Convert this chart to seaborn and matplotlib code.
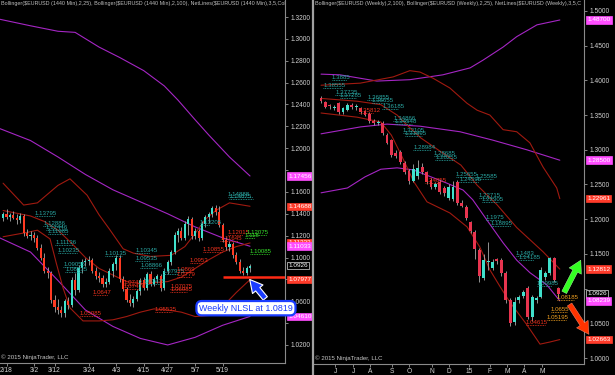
import numpy as np
import matplotlib
matplotlib.use('Agg')
import matplotlib.pyplot as plt
from matplotlib.lines import Line2D
import seaborn as sns

sns.set_theme(style='dark', rc={'axes.facecolor': 'black', 'figure.facecolor': 'black',
                                'axes.grid': False, 'axes.edgecolor': '#8a8a8a'})
plt.rcParams['font.family'] = ['Liberation Sans', 'DejaVu Sans']

# ---- daily EURUSD (left) ----
d_open = [1.136,1.140,1.137,1.139,1.136,1.134,1.138,1.122,1.120,1.121,
          1.118,1.109,1.100,1.088,1.086,1.061,1.055,1.052,1.049,1.060,
          1.057,1.079,1.070,1.090,1.096,1.097,1.098,1.088,1.083,1.081,
          1.076,1.078,1.088,1.094,1.100,1.080,1.071,1.061,1.058,1.062,
          1.069,1.079,1.072,1.085,1.076,1.080,1.083,1.072,1.088,1.096,
          1.105,1.121,1.124,1.118,1.131,1.135,1.120,1.124,1.118,1.131,
          1.137,1.140,1.145,1.142,1.130,1.116,1.110,1.112,1.102,1.096,
          1.088,1.086,1.090]
d_high = [1.142,1.144,1.141,1.143,1.140,1.141,1.140,1.126,1.124,1.123,
          1.121,1.112,1.104,1.091,1.088,1.066,1.062,1.056,1.062,1.064,
          1.082,1.086,1.093,1.099,1.100,1.101,1.100,1.091,1.087,1.084,
          1.081,1.090,1.096,1.102,1.102,1.083,1.073,1.067,1.065,1.071,
          1.081,1.082,1.087,1.088,1.082,1.085,1.085,1.090,1.098,1.107,
          1.123,1.127,1.128,1.133,1.138,1.137,1.127,1.126,1.133,1.139,
          1.142,1.147,1.148,1.147,1.132,1.119,1.115,1.114,1.105,1.099,
          1.091,1.092,1.094]
d_low = [1.133,1.135,1.133,1.135,1.131,1.132,1.120,1.118,1.116,1.114,
         1.107,1.098,1.086,1.081,1.058,1.050,1.048,1.046,1.046,1.053,
         1.055,1.066,1.068,1.086,1.092,1.093,1.086,1.080,1.078,1.073,
         1.073,1.076,1.082,1.089,1.078,1.069,1.059,1.056,1.055,1.060,
         1.066,1.070,1.070,1.074,1.074,1.077,1.069,1.070,1.085,1.093,
         1.103,1.114,1.116,1.116,1.121,1.117,1.117,1.115,1.116,1.128,
         1.132,1.137,1.139,1.128,1.114,1.107,1.106,1.100,1.094,1.086,
         1.084,1.084,1.087]
d_close = [1.140,1.137,1.139,1.136,1.134,1.138,1.122,1.120,1.121,1.118,
           1.109,1.100,1.088,1.086,1.061,1.055,1.052,1.049,1.060,1.057,
           1.079,1.070,1.090,1.096,1.097,1.098,1.088,1.083,1.081,1.076,
           1.078,1.088,1.094,1.100,1.080,1.071,1.061,1.058,1.062,1.069,
           1.079,1.072,1.085,1.076,1.080,1.083,1.072,1.088,1.096,1.105,
           1.121,1.124,1.118,1.131,1.135,1.120,1.124,1.118,1.131,1.137,
           1.140,1.145,1.142,1.130,1.116,1.110,1.112,1.102,1.096,1.088,
           1.086,1.090,1.0926]
d_tick_pos = [1, 9, 15, 25, 33, 41, 48, 56, 64]
d_tick_lab = ['2/18', '3/2', '3/12', '3/24', '4/3', '4/15', '4/27', '5/7', '5/19']

# bollinger (2,100) daily
db100_up_x = [-1, 8, 16, 21, 28, 34, 41, 47, 51, 56, 60, 66, 72]
db100_up_y = [1.318, 1.312, 1.307, 1.306, 1.2925, 1.283, 1.271, 1.257, 1.244, 1.226, 1.212, 1.192, 1.1746]
db100_mid_x = [-1, 8, 16, 24, 32, 40, 48, 56, 64, 72]
db100_mid_y = [1.218, 1.207, 1.192, 1.176, 1.162, 1.151, 1.140, 1.128, 1.118, 1.1103]
db100_low_x = [-1, 8, 16, 24, 32, 40, 48, 56, 64, 72]
db100_low_y = [1.118, 1.105, 1.079, 1.052, 1.037, 1.026, 1.020, 1.027, 1.038, 1.0461]
# bollinger (2,25) daily
db25_up_x = [0, 6, 10, 16, 19.5, 24.5, 28, 31, 35, 38, 43, 49, 53, 56, 59, 62, 66, 72]
db25_up_y = [1.168, 1.148, 1.150, 1.166, 1.172, 1.157, 1.139, 1.126, 1.108, 1.104, 1.101, 1.102,
             1.110, 1.122, 1.135, 1.143, 1.150, 1.1469]
db25_mid_x = [0, 8, 12, 16, 20, 24, 28, 32, 36, 40, 44, 48, 52, 56, 60, 64, 68, 72]
db25_mid_y = [1.143, 1.138, 1.133, 1.125, 1.113, 1.100, 1.090, 1.084, 1.078, 1.076, 1.077, 1.078,
              1.082, 1.090, 1.098, 1.105, 1.110, 1.1133]
db25_low_x = [0, 7, 10, 13.7, 15.5, 17.5, 19.5, 23.3, 28, 32, 36, 40, 44, 48, 52, 56, 60, 64, 68, 72]
db25_low_y = [1.119, 1.123, 1.125, 1.117, 1.095, 1.072, 1.054, 1.042, 1.042, 1.043, 1.046, 1.050,
              1.053, 1.052, 1.050, 1.046, 1.047, 1.055, 1.068, 1.0798]

# netlines daily
dn_text = ["1.13795", "1.12886", "1.12446", "1.11985", "1.11136", "1.10235", "1.09055", "1.08835",
           "1.10135", "1.10345", "1.09535", "1.08866", "1.07975", "1.07475", "1.14888", "1.14875", "1.13205",
           "1.0647", "1.05085", "1.0743", "1.07476", "1.05535", "1.07075", "1.06985", "1.0953", "1.0869",
           "1.0779", "1.10855", "1.12015", "1.11645",
           "1.12075", "1.118", "1.10085"]
dn_level = [1.1384, 1.1284, 1.1256, 1.1219, 1.1118, 1.1045, 1.0917, 1.0871, 1.1018, 1.1039, 1.0972,
            1.0901, 1.0852, 1.0760, 1.1550, 1.1531, 1.1293,
            1.0660, 1.0467, 1.0752, 1.0715, 1.0504, 1.0715, 1.0687, 1.0953, 1.0871, 1.0825, 1.1054,
            1.1209, 1.1155,
            1.1209, 1.1183, 1.1028]
dn_start = [9.3, 11.7, 12.5, 13.0, 15.2, 16.0, 17.5, 18.1, 29.7, 38.5, 38.5, 40.0, 46.6, 41.0, 65.6, 66.0, 57.4,
            26.2, 22.4, 35.0, 35.0, 44.3, 48.7, 48.7, 54.5, 50.7, 50.7, 58.3, 65.6, 63.3,
            71.1, 70.5, 72.0]
dn_end = [15.2, 17.5, 18.5, 19.0, 20.4, 21.6, 22.4, 23.3, 34.7, 42.9, 42.9, 45.0, 51.0, 46.0, 72.9, 73.0, 60.3,
          30.6, 28.3, 39.0, 39.5, 49.3, 53.6, 53.6, 58.3, 55.1, 55.1, 63.8, 70.0, 68.5,
          77.0, 73.5, 77.8]
dn_kind = ['c'] * 17 + ['r'] * 13 + ['g'] * 3

d_labels = ['1.17456', '1.14688', '1.11333', '1.11033', '1.0926', '1.07977', '1.04610']
d_label_val = [1.17456, 1.14688, 1.11333, 1.11033, 1.0926, 1.07977, 1.0461]
d_label_kind = ['m', 'r', 'r', 'm', 'k', 'r', 'm']
nlsl = 1.0819

# ---- weekly EURUSD (right) ----
w_open = [1.375,1.369,1.364,1.360,1.367,1.354,1.358,1.365,1.361,1.360,
          1.356,1.352,1.341,1.338,1.339,1.322,1.314,1.296,1.297,1.281,
          1.270,1.255,1.262,1.275,1.268,1.256,1.246,1.253,1.245,1.231,
          1.229,1.254,1.224,1.218,1.196,1.182,1.156,1.116,1.139,1.130,
          1.142,1.141,1.122,1.084,1.052,1.084,1.090,1.101,1.059,1.084,
          1.088,1.117,1.122,1.144,1.101]
w_high = [1.378,1.371,1.366,1.365,1.369,1.362,1.367,1.368,1.366,1.362,
          1.358,1.354,1.344,1.343,1.341,1.324,1.316,1.299,1.300,1.284,
          1.272,1.280,1.286,1.281,1.270,1.259,1.254,1.256,1.248,1.250,
          1.255,1.256,1.227,1.220,1.198,1.184,1.158,1.150,1.167,1.143,
          1.144,1.144,1.125,1.087,1.088,1.091,1.098,1.104,1.091,1.089,
          1.131,1.125,1.146,1.146,1.103]
w_low = [1.368,1.360,1.359,1.358,1.351,1.352,1.356,1.359,1.357,1.352,
         1.348,1.339,1.336,1.335,1.322,1.308,1.290,1.288,1.280,1.265,
         1.251,1.253,1.258,1.265,1.250,1.244,1.243,1.236,1.233,1.228,
         1.226,1.220,1.217,1.199,1.180,1.143,1.110,1.113,1.127,1.127,
         1.136,1.118,1.080,1.046,1.047,1.080,1.086,1.056,1.054,1.079,
         1.086,1.112,1.119,1.109,1.086]
w_close = [1.370,1.362,1.363,1.362,1.354,1.360,1.365,1.361,1.363,1.354,
           1.350,1.341,1.339,1.340,1.324,1.310,1.293,1.291,1.283,1.268,
           1.255,1.272,1.274,1.268,1.254,1.247,1.250,1.239,1.238,1.247,
           1.246,1.224,1.219,1.202,1.183,1.157,1.118,1.141,1.140,1.139,
           1.140,1.122,1.084,1.051,1.081,1.088,1.095,1.059,1.088,1.087,
           1.127,1.122,1.144,1.113,1.0926]
w_tick_pos = [3.2, 7.3, 11.1, 16.1, 20, 25.2, 29.1, 33.6, 38.4, 42.3, 46.1, 50.2]
w_tick_lab = ['J', 'J', 'A', 'S', 'O', 'N', 'D', '15', 'F', 'M', 'A', 'M']

wb100_up_x = [0, 4.3, 12.7, 20.2, 27.7, 33.9, 36.8, 41.4, 44.5, 49.1, 54.3]
wb100_up_y = [1.409, 1.408, 1.399, 1.401, 1.408, 1.418, 1.429, 1.448, 1.463, 1.480, 1.487]
wb100_mid_x = [0, 9, 15, 22.5, 31.6, 39, 46.8, 54.3]
wb100_mid_y = [1.323, 1.333, 1.337, 1.334, 1.326, 1.314, 1.300, 1.285]
wb100_low_x = [0, 6, 10, 13.6, 17.3, 21, 25, 28.6, 32.3, 34.5, 37.7, 41.4, 44.5, 47.5, 51.4, 54.3]
wb100_low_y = [1.238, 1.245, 1.261, 1.272, 1.274, 1.271, 1.261, 1.252, 1.242, 1.228, 1.199, 1.166,
               1.141, 1.123, 1.105, 1.0824]
wb25_up_x = [0, 8.9, 16.4, 20.2, 22.5, 25.5, 29.3, 33.2, 35.5, 38.4, 41.4, 44.5, 47.5, 50.5, 53.6, 54.3]
wb25_up_y = [1.393, 1.396, 1.405, 1.414, 1.412, 1.403, 1.389, 1.367, 1.357, 1.350, 1.329, 1.326,
             1.310, 1.275, 1.245, 1.2296]
wb25_mid_x = [0, 8.2, 13.6, 17.3, 19.5, 22.7, 27.3, 31.8, 35.5, 40, 44.5, 50.5, 54.3]
wb25_mid_y = [1.374, 1.370, 1.365, 1.350, 1.336, 1.317, 1.297, 1.278, 1.249, 1.221, 1.188, 1.153, 1.1281]
wb25_low_x = [0, 8.2, 13.6, 16, 18.2, 21.1, 24.1, 29.3, 33.2, 36.1, 38.4, 40.7, 43, 46.8, 49.8, 52, 54.3]
wb25_low_y = [1.353, 1.347, 1.340, 1.321, 1.293, 1.254, 1.225, 1.209, 1.189, 1.160, 1.127, 1.103,
              1.080, 1.048, 1.020, 1.023, 1.0266]

wn_text = ["1.3885", "1.38555", "1.37735", "1.37285", "1.36855", "1.36655", "1.36185", "1.34866",
           "1.34548", "1.32105", "1.31895", "1.28984", "1.28685", "1.28255", "1.25655", "1.25585",
           "1.24595", "1.22715", "1.22305", "1.1975", "1.18895", "1.1483", "1.14185", "1.09985",
           "1.35812", "1.24855", "1.04615",
           "1.08185", "1.0655", "1.05195"]
wn_level = [1.4006, 1.3890, 1.3790, 1.3747, 1.3718, 1.3675, 1.3589, 1.3416, 1.3373, 1.3243, 1.3200,
            1.2998, 1.2912, 1.2854, 1.2610, 1.2581, 1.2538, 1.2307, 1.2250, 1.1990, 1.1904, 1.1472,
            1.1414, 1.1040,
            1.3531, 1.2523, 1.0478,
            1.0838, 1.0666, 1.0550]
wn_start = [2.5, 0.5, 3.2, 4.3, 10.5, 11.6, 13.9, 16.4, 16.8, 18.6, 19.0, 21.0, 25.7, 26.0, 30.7, 35.2,
            31.4, 35.9, 36.6, 37.5, 38.6, 44.3, 45.0, 49.1,
            8.6, 23.6, 46.6,
            53.6, 52.3, 51.4]
wn_end = [5.9, 5.0, 7.3, 8.0, 14.1, 15.5, 17.5, 20.2, 20.6, 22.5, 22.9, 25.0, 29.5, 30.2, 34.5, 39.0,
          35.9, 39.3, 40.5, 40.9, 43.2, 47.3, 48.4, 52.5,
          11.8, 27.0, 51.0,
          57.5, 56.0, 55.7]
wn_kind = ['c'] * 24 + ['r'] * 3 + ['o'] * 3

w_labels = ['1.48700', '1.28500', '1.22961', '1.12812', '1.0926', '1.08239', '1.02663']
w_label_val = [1.487, 1.285, 1.22961, 1.12812, 1.0926, 1.08239, 1.02663]
w_label_kind = ['m', 'm', 'r', 'r', 'k', 'm', 'r']

TXT = {'c': '#2aa8a4', 'r': '#f0321e', 'g': '#36e02a', 'o': '#f0a020'}
BOX = {'m': ('#ff4dff', '#ff4dff', 'white'), 'r': ('#ff3b2a', '#ff3b2a', 'white'),
       'k': ('black', '#e0e0e0', 'white')}
MAG = '#a526c4'
DRED = '#a01a10'


def candles(ax, o, h, l, c, up, down, width, minh):
    o, h, l, c = map(np.asarray, (o, h, l, c))
    x = np.arange(len(o))
    ax.vlines(x, l, h, color='#a8a8a8', lw=0.6, zorder=3)
    body = np.maximum(np.abs(c - o), minh)
    ax.bar(x, body, bottom=np.minimum(o, c), width=width,
           color=np.where(c >= o, up, down), linewidth=0, zorder=4)


def bands(ax, xs, ys, color):
    for x, y in zip(xs, ys):
        sns.lineplot(x=x, y=y, ax=ax, color=color, linewidth=0.8, zorder=2)


def netlines(ax, x0, x1, lev, txt, kind):
    for a, b, v, t, k in zip(x0, x1, lev, txt, kind):
        ax.hlines(v, a, b, colors=TXT[k], linestyles=(0, (1, 1)), lw=0.6, zorder=5)
        ax.text(a, v, t, color=TXT[k], fontsize=4.4, va='bottom', ha='left', zorder=6)


def price_boxes(ax, txt, val, kind):
    for t, v, k in zip(txt, val, kind):
        fc, ec, tc = BOX[k]
        ax.annotate(t, xy=(1, v), xycoords=ax.get_yaxis_transform(), xytext=(2.2, 0),
                    textcoords='offset points', ha='left', va='center', fontsize=4.6,
                    color=tc, annotation_clip=False, zorder=20,
                    bbox=dict(boxstyle='square,pad=0.2', fc=fc, ec=ec, lw=0.5))


def style(ax, yticks, xpos, xlab, header, boxes, clear):
    ax.set_facecolor('black')
    for s in ('top', 'left'):
        ax.spines[s].set_visible(False)
    for s in ('right', 'bottom'):
        ax.spines[s].set_color('#8a8a8a')
        ax.spines[s].set_linewidth(0.8)
    ax.yaxis.tick_right()
    ax.set_yticks(yticks)
    # tick labels that sit under a price box are covered in the original
    ax.set_yticklabels(['' if min(abs(t - b) for b in boxes) < clear else '%.4f' % t
                        for t in yticks])
    ax.set_xticks(xpos)
    ax.set_xticklabels(xlab)
    ax.tick_params(axis='y', colors='#9a9a9a', labelcolor='#d0d0d0', labelsize=4.8,
                   length=2.5, width=0.6, pad=1.5, right=True, left=False)
    ax.tick_params(axis='x', colors='#9a9a9a', labelcolor='#d0d0d0', labelsize=4.8,
                   length=2, width=0.6, pad=1, bottom=True)
    ax.text(0.003, 0.997, header, transform=ax.transAxes, color='#bdbdbd', fontsize=3.9,
            va='top', ha='left', clip_on=True, zorder=8)
    ax.text(0.004, 0.008, '\u00a9 2015 NinjaTrader, LLC', transform=ax.transAxes,
            color='#c8c8c8', fontsize=4.4, va='bottom', ha='left', zorder=8)


fig = plt.figure(figsize=(6.15, 3.75), dpi=100)
fig.patch.set_facecolor('black')
axL = fig.add_axes([0, 12 / 375, 285 / 615, 363 / 375])
axR = fig.add_axes([314 / 615, 11 / 375, 270 / 615, 364 / 375])
fig.add_artist(Line2D([312.5 / 615] * 2, [0, 1], transform=fig.transFigure,
                      color='#a0a0a0', lw=1.6))

# left panel
bands(axL, [db100_up_x, db100_mid_x, db100_low_x], [db100_up_y, db100_mid_y, db100_low_y], MAG)
bands(axL, [db25_up_x, db25_mid_x, db25_low_x], [db25_up_y, db25_mid_y, db25_low_y], DRED)
candles(axL, d_open, d_high, d_low, d_close, '#40e0cc', '#ff3a22', 0.62, 0.0007)
netlines(axL, dn_start, dn_end, dn_level, dn_text, dn_kind)
axL.set_xlim(-0.9, 82.2)
axL.set_ylim(1.0035, 1.3356)
axL.hlines(nlsl, 64.1, 82.2, colors='#ff2a14', lw=1.8, zorder=7)
style(axL, np.round(np.arange(1.02, 1.3201, 0.02), 2), d_tick_pos, d_tick_lab,
      'Bollinger($EURUSD (1440 Min),2,25), Bollinger($EURUSD (1440 Min),2,100), '
      'NetLines($EURUSD (1440 Min),3,5,Col', d_label_val, 0.0062)
price_boxes(axL, d_labels, d_label_val, d_label_kind)
axL.annotate('', xy=(0.870, 0.236), xytext=(0.937, 0.172), xycoords='axes fraction',
             arrowprops=dict(arrowstyle='simple,head_length=0.7,head_width=0.75,tail_width=0.3',
                             mutation_scale=13, fc='#1a3cff', ec='white', lw=0.8), zorder=21)
axL.text(0.863, 0.151, 'Weekly NLSL at 1.0819', transform=axL.transAxes, color='#1a3cff',
         fontsize=6.4, ha='center', va='center', zorder=22, clip_on=False,
         bbox=dict(boxstyle='round,pad=0.3,rounding_size=0.6', fc='white', ec='#1a3cff', lw=1.6))

# right panel
bands(axR, [wb100_up_x, wb100_mid_x, wb100_low_x], [wb100_up_y, wb100_mid_y, wb100_low_y], MAG)
bands(axR, [wb25_up_x, wb25_mid_x, wb25_low_x], [wb25_up_y, wb25_mid_y, wb25_low_y], DRED)
candles(axR, w_open, w_high, w_low, w_close, '#40e0cc', '#e8344f', 0.66, 0.0015)
netlines(axR, wn_start, wn_end, wn_level, wn_text, wn_kind)
axR.set_xlim(-1.6, 59.8)
axR.set_ylim(0.9914, 1.5158)
style(axR, np.round(np.arange(1.0, 1.5001, 0.05), 2), w_tick_pos, w_tick_lab,
      'Bollinger($EURUSD (Weekly),2,100), Bollinger($EURUSD (Weekly),2,25), '
      'NetLines($EURUSD (Weekly),3,5,C', w_label_val, 0.0095)
price_boxes(axR, w_labels, w_label_val, w_label_kind)
axR.annotate('', xy=(0.993, 0.292), xytext=(0.922, 0.190), xycoords='axes fraction',
             arrowprops=dict(arrowstyle='simple,head_length=0.55,head_width=0.62,tail_width=0.24',
                             mutation_scale=16, fc='#33ff22', ec='#b8ffb0', lw=0.3), zorder=21)
axR.annotate('', xy=(1.024, 0.075), xytext=(0.941, 0.170), xycoords='axes fraction',
             arrowprops=dict(arrowstyle='simple,head_length=0.55,head_width=0.62,tail_width=0.24',
                             mutation_scale=16, fc='#ff3300', ec='#ff9a80', lw=0.3),
             zorder=21, annotation_clip=False)

fig.savefig('out.png', dpi=100, facecolor='black')
